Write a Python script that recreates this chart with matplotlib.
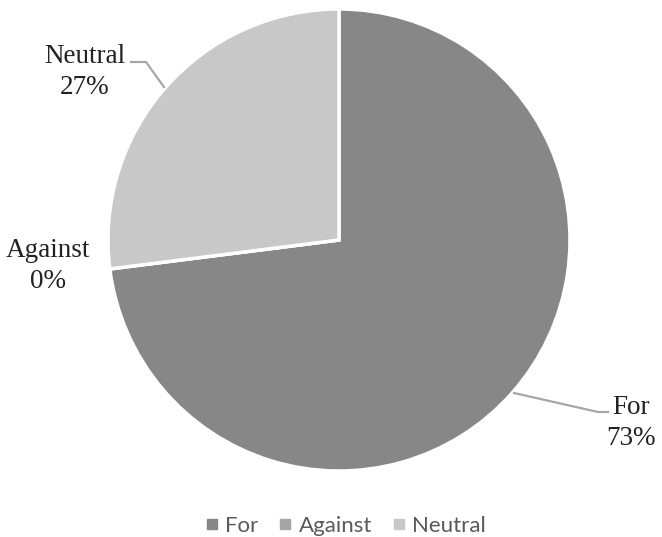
import matplotlib.pyplot as plt
from matplotlib.lines import Line2D

# Stance breakdown
labels = ["For", "Against", "Neutral"]
values = [73, 0, 27]
colors = ["#878787", "#a5a5a5", "#c8c8c8"]

W, H = 662, 537
fig = plt.figure(figsize=(W / 100, H / 100), dpi=100)

# pie centre and radius in pixels
cx, cy, r = 339, 240, 231
ax = fig.add_axes([(cx - r) / W, (H - cy - r) / H, 2 * r / W, 2 * r / H])

ax.pie(
    values,
    colors=colors,
    startangle=90,
    counterclock=False,
    radius=1.0,
    wedgeprops=dict(edgecolor="white", linewidth=2.5),
)
ax.set_xlim(-1, 1)
ax.set_ylim(-1, 1)
ax.set_aspect("equal")
ax.axis("off")


def to_data(px, py):
    return (px - cx) / r, (cy - py) / r


serif = dict(family="Liberation Serif", fontsize=19.5, color="#222222",
             ha="center", va="center", linespacing=1.3)

# data labels
total = sum(values)
pos = {"Neutral": (85, 72), "Against": (48, 266), "For": (631, 423)}
for lab, val in zip(labels, values):
    x, y = to_data(*pos[lab])
    ax.text(x, y, f"{lab}\n{round(100 * val / total)}%", **serif)

# leader lines
lc = "#a6a6a6"
for pts in ([(131, 62), (146, 62), (164, 87)],
            [(514, 393), (598, 412), (608, 412)]):
    xs, ys = zip(*[to_data(*p) for p in pts])
    ax.add_line(Line2D(xs, ys, color=lc, linewidth=1.6, clip_on=False))

# legend
handles = [plt.Line2D([], [], marker="s", linestyle="", markersize=7,
                      markerfacecolor=c, markeredgecolor=c) for c in colors]
fig.legend(handles, labels, loc="center", bbox_to_anchor=(0.522, 1 - 526 / H),
           ncol=3, frameon=False, handlelength=0.6, handletextpad=0.3,
           columnspacing=0.9,
           prop=dict(family="Lato", size=16), labelcolor="#595959")

fig.savefig("out.png", dpi=100)
